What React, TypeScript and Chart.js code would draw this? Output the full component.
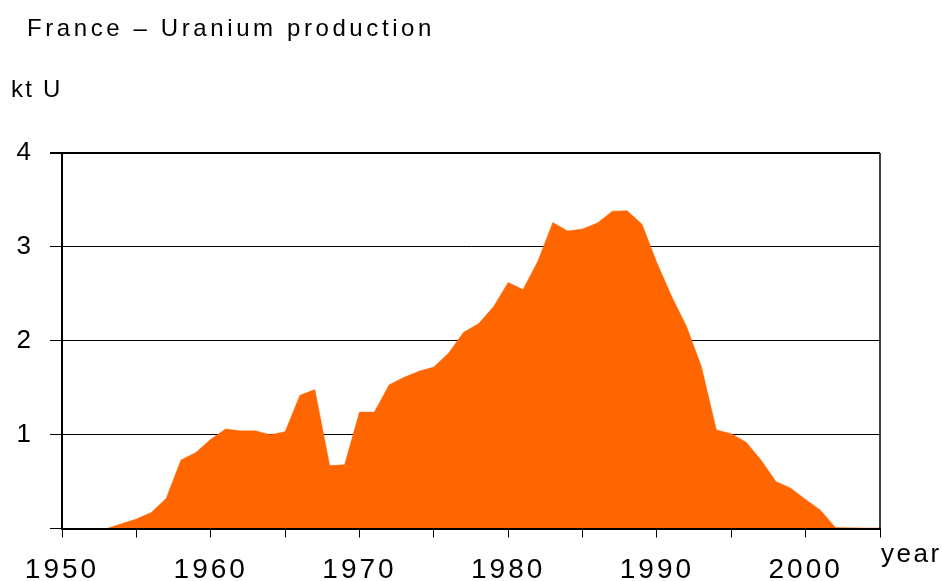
import React, { useEffect, useRef } from 'react';
import { Chart, registerables } from 'chart.js';

Chart.register(...registerables);

const years = [
  1953, 1954, 1955, 1956, 1957, 1958, 1959, 1960, 1961, 1962, 1963, 1964, 1965,
  1966, 1967, 1968, 1969, 1970, 1971, 1972, 1973, 1974, 1975, 1976, 1977, 1978,
  1979, 1980, 1981, 1982, 1983, 1984, 1985, 1986, 1987, 1988, 1989, 1990, 1991,
  1992, 1993, 1994, 1995, 1996, 1997, 1998, 1999, 2000, 2001, 2002, 2003, 2004, 2005,
];
const production = [
  0, 0.05, 0.1, 0.17, 0.32, 0.73, 0.81, 0.95, 1.06, 1.04, 1.04, 1.0, 1.03,
  1.42, 1.48, 0.67, 0.68, 1.24, 1.24, 1.53, 1.61, 1.675, 1.72, 1.87, 2.09, 2.18,
  2.36, 2.62, 2.545, 2.85, 3.26, 3.17, 3.19, 3.255, 3.38, 3.385, 3.24, 2.83, 2.47,
  2.15, 1.72, 1.05, 1.01, 0.92, 0.73, 0.5, 0.43, 0.31, 0.195, 0.01, 0.007, 0.005, 0.005,
];
const xMin = 1950;
const xMax = 2005;
const yMin = 0;
const yMax = 4;
const labelledYears = [1950, 1960, 1970, 1980, 1990, 2000];
const labelledValues = [1, 2, 3, 4];

const TITLE = 'France \u2013 Uranium production';
const Y_UNIT = 'kt U';
const X_UNIT = 'year';

const FONT = '"Liberation Sans", Arial, sans-serif';

const textPlugin = {
  id: 'textPlugin',
  beforeUpdate(chart: any) {
    chart.ctx.letterSpacing = '3px';
  },
  beforeLayout(chart: any) {
    chart.ctx.letterSpacing = '3px';
  },
  beforeDraw(chart: any) {
    chart.ctx.letterSpacing = '3px';
  },
  afterDatasetsDraw(chart: any) {
    const ctx = chart.ctx;
    const a = chart.chartArea;
    ctx.save();
    ctx.strokeStyle = '#000';
    ctx.lineWidth = 1.5;
    ctx.beginPath();
    ctx.moveTo(a.right, a.top);
    ctx.lineTo(a.right, a.bottom);
    ctx.stroke();
    ctx.restore();
  },
  afterDraw(chart: any) {
    const ctx = chart.ctx;
    ctx.save();
    ctx.fillStyle = '#000';
    ctx.textAlign = 'left';
    ctx.textBaseline = 'alphabetic';
    ctx.font = `24px ${FONT}`;
    ctx.letterSpacing = '3.6px';
    ctx.fillText(TITLE, 27, 36);
    ctx.letterSpacing = '2.2px';
    ctx.fillText(Y_UNIT, 11, 97);
    ctx.font = `26px ${FONT}`;
    ctx.letterSpacing = '2.5px';
    ctx.fillText(X_UNIT, chart.chartArea.right + 1, 562);
    ctx.restore();
  },
};

export default function App() {
  const ref = useRef<HTMLCanvasElement | null>(null);

  useEffect(() => {
    if (!ref.current) return;
    const data = years.map((y, i) => ({ x: y, y: production[i] }));
    const chart = new Chart(ref.current, {
      type: 'line',
      data: {
        datasets: [
          {
            data,
            borderColor: '#FF6600',
            backgroundColor: '#FF6600',
            borderWidth: 0.5,
            fill: 'origin',
            pointRadius: 0,
            tension: 0,
          },
        ],
      },
      plugins: [textPlugin],
      options: {
        responsive: false,
        animation: false,
        devicePixelRatio: 1,
        layout: { padding: { top: 153, right: 62, left: 0, bottom: 0 } },
        plugins: { legend: { display: false }, tooltip: { enabled: false }, title: { display: false } },
        scales: {
          x: {
            type: 'linear',
            min: xMin,
            max: xMax,
            afterFit: (s: any) => {
              s.height = 52.5;
            },
            ticks: {
              stepSize: 5,
              autoSkip: false,
              maxRotation: 0,
              color: '#000',
              padding: 16,
              font: { family: FONT, size: 28 },
              callback: (v: any) => (labelledYears.includes(Number(v)) ? String(v) : ''),
            },
            grid: {
              z: 1,
              drawOnChartArea: false,
              drawTicks: true,
              tickLength: 9,
              color: '#000',
              lineWidth: 1,
            },
            border: { display: true, color: '#000', width: 2, z: 1 },
          },
          y: {
            type: 'linear',
            min: yMin,
            max: yMax,
            afterFit: (s: any) => {
              s.width = 62;
            },
            ticks: {
              stepSize: 1,
              color: '#000',
              padding: 16,
              font: { family: FONT, size: 26 },
              callback: (v: any) => (labelledValues.includes(Number(v)) ? String(v) : ''),
            },
            grid: {
              color: '#000',
              lineWidth: (c: any) => (c.tick && c.tick.value === yMax ? 2 : 1),
              drawTicks: true,
              tickLength: 12,
            },
            border: { display: true, color: '#000', width: 2 },
          },
        },
      },
    } as any);
    return () => chart.destroy();
  }, []);

  return (
    <div style={{ position: 'absolute', left: 0, top: 0, width: 942, height: 581, background: '#fff' }}>
      <canvas ref={ref} width={942} height={581} style={{ display: 'block' }} />
    </div>
  );
}
